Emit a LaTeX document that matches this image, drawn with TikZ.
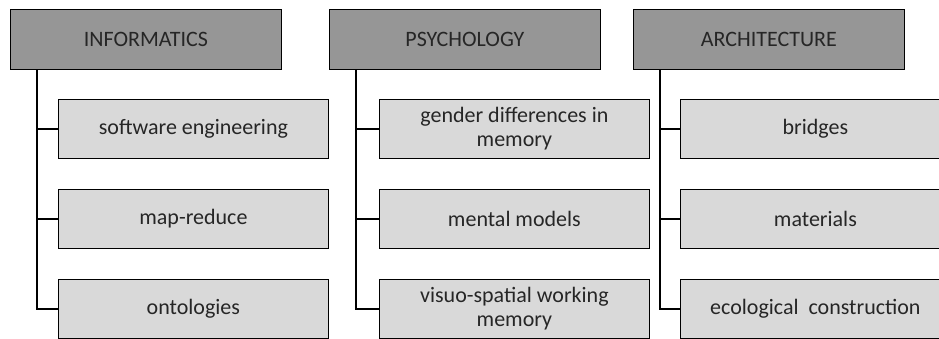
\documentclass[tikz,border=0pt]{standalone}
\usepackage{fontspec}
\setmainfont{Carlito}
\definecolor{headfill}{HTML}{969696}
\definecolor{childfill}{HTML}{D9D9D9}
\begin{document}
\begin{tikzpicture}[x=1pt,y=-1pt,
  box/.style={draw=black, line width=1.8pt, inner sep=0pt, align=center,
    font=\fontsize{22}{24}\selectfont, text=black!85},
  headbox/.style={box, fill=headfill, minimum width=271pt, minimum height=60pt},
  childbox/.style={box, fill=childfill, minimum width=270pt, minimum height=59pt},
  conn/.style={draw=black, line width=1.5pt}]
\useasboundingbox (0,0) rectangle (939,338);
% column 1
\node[headbox,anchor=north west] (h1) at (9.5,8.5) {INFORMATICS};
\node[childbox,anchor=north west] (a1) at (57.5,98.5) {software engineering};
\node[childbox,anchor=north west] (a2) at (57.5,188.5) {map-reduce};
\node[childbox,anchor=north west] (a3) at (57.5,278.5) {ontologies};
% column 2
\node[headbox,anchor=north west] (h2) at (328.5,8.5) {PSYCHOLOGY};
\node[childbox,anchor=north west] (b1) at (378.5,98.5) {gender differences in\\memory};
\node[childbox,anchor=north west] (b2) at (378.5,188.5) {mental models};
\node[childbox,anchor=north west] (b3) at (378.5,278.5) {visuo-spatial working\\memory};
% column 3
\node[headbox,anchor=north west] (h3) at (632.5,8.5) {ARCHITECTURE};
\node[childbox,anchor=north west] (c1) at (679.5,98.5) {bridges};
\node[childbox,anchor=north west] (c2) at (679.5,188.5) {materials};
\node[childbox,anchor=north west] (c3) at (679.5,278.5) {ecological\ \ construction};
% connectors
\draw[conn] (h1.south west) ++(27.5,0) coordinate (t1) |- (a3.west);
\draw[conn] (t1 |- a1.west) -- (a1.west);
\draw[conn] (t1 |- a2.west) -- (a2.west);
\draw[conn] (h2.south west) ++(27.5,0) coordinate (t2) |- (b3.west);
\draw[conn] (t2 |- b1.west) -- (b1.west);
\draw[conn] (t2 |- b2.west) -- (b2.west);
\draw[conn] (h3.south west) ++(27.5,0) coordinate (t3) |- (c3.west);
\draw[conn] (t3 |- c1.west) -- (c1.west);
\draw[conn] (t3 |- c2.west) -- (c2.west);
\end{tikzpicture}
\end{document}
